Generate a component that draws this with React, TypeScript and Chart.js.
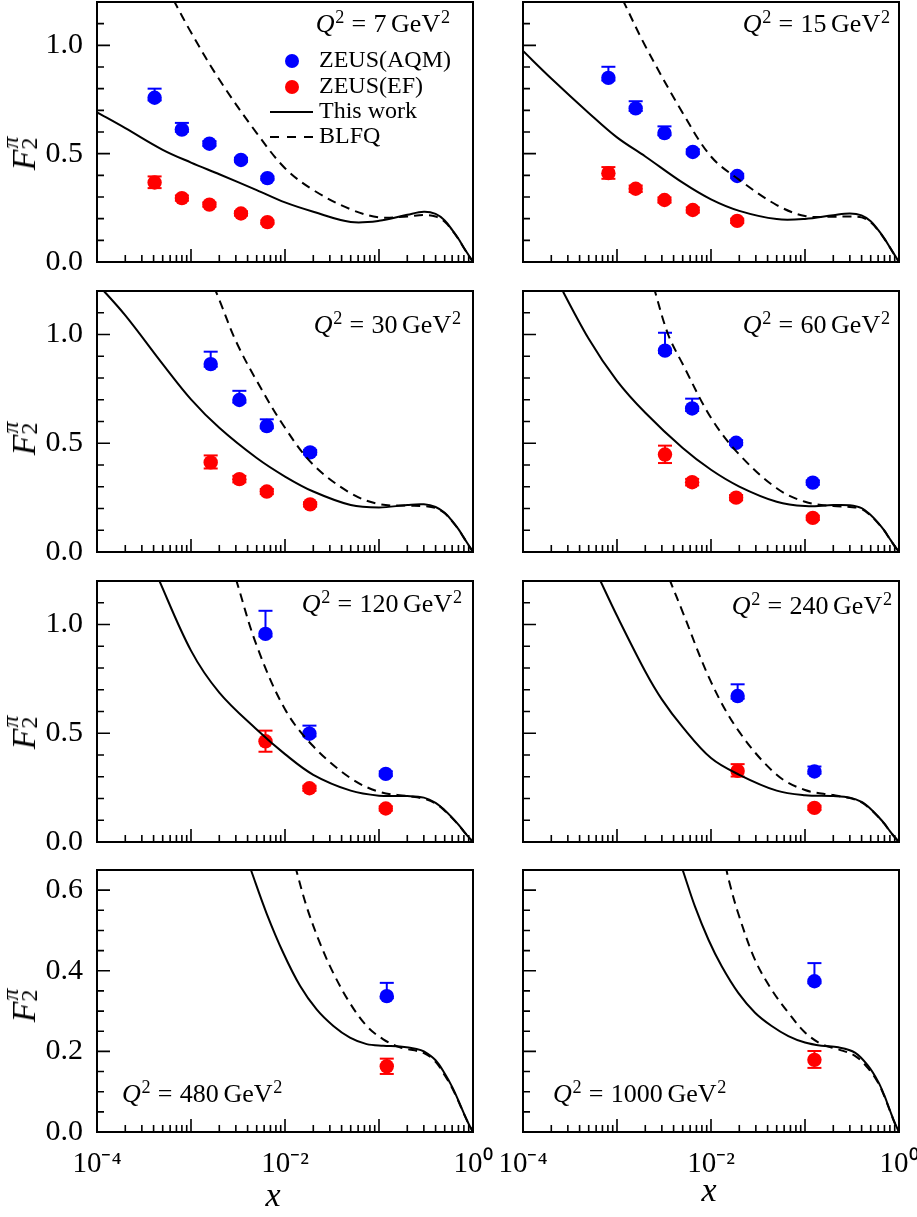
import React, { useEffect, useRef } from 'react';
import { Chart, registerables } from 'chart.js';

Chart.register(...registerables);

const SERIF = "'Liberation Serif', 'Times New Roman', serif";
const BLUE = '#0000ff';
const RED = '#ff0000';

// ---------- ticks ----------
const q2Labels = ['7', '15', '30', '60', '120', '240', '480', '1000'];
const xDecades = [1e-4, 1e-3, 1e-2, 1e-1];
const xMinorFactors = [2, 3, 4, 5, 6, 7, 8, 9];
const xLabelledDecades = [1e-4, 1e-2, 1];
const yTicksTall = [0, 0.1, 0.2, 0.3, 0.4, 0.5, 0.6, 0.7, 0.8, 0.9, 1.0, 1.1, 1.2];
const yLabelsTall = [0, 0.5, 1.0];
const yTicksShort = [0, 0.05, 0.1, 0.15, 0.2, 0.25, 0.3, 0.35, 0.4, 0.45, 0.5, 0.55, 0.6, 0.65];
const yLabelsShort = [0, 0.2, 0.4, 0.6];

// ---------- Q^2 = 7 ----------
const xAqm7 = [4.1e-4, 8.0e-4, 1.57e-3, 3.4e-3, 6.5e-3];
const yAqm7 = [0.758, 0.611, 0.546, 0.471, 0.387];
const upAqm7 = [0.042, 0.031, 0.012, 0.01, 0.008];
const dnAqm7 = [0.012, 0.01, 0.01, 0.008, 0.008];
const xEf7 = [4.1e-4, 8.0e-4, 1.57e-3, 3.4e-3, 6.5e-3];
const yEf7 = [0.367, 0.295, 0.265, 0.224, 0.184];
const upEf7 = [0.028, 0.012, 0.01, 0.01, 0.008];
const dnEf7 = [0.026, 0.012, 0.01, 0.01, 0.008];
const thisWork7 = [[1e-4, 0.691], [2e-4, 0.618], [5e-4, 0.518], [1e-3, 0.459], [2e-3, 0.405], [5e-3, 0.332], [1e-2, 0.275], [2e-2, 0.232], [5e-2, 0.185], [0.1, 0.19], [0.2, 0.218], [0.3, 0.232], [0.4, 0.222], [0.5, 0.192], [0.6, 0.148], [0.7, 0.107], [0.8, 0.066], [0.9, 0.031], [1, 0]];
const blfq7 = [[6.5e-4, 1.21], [1e-3, 1.06], [2e-3, 0.842], [5e-3, 0.595], [1e-2, 0.433], [2e-2, 0.332], [5e-2, 0.243], [0.1, 0.206], [0.2, 0.21], [0.3, 0.217], [0.4, 0.21], [0.5, 0.186], [0.6, 0.146], [0.7, 0.106], [0.8, 0.065], [0.9, 0.03], [1, 0]];

// ---------- Q^2 = 15 ----------
const xAqm15 = [8.1e-4, 1.58e-3, 3.2e-3, 6.4e-3, 1.9e-2];
const yAqm15 = [0.85, 0.709, 0.595, 0.508, 0.397];
const upAqm15 = [0.051, 0.033, 0.031, 0.012, 0.01];
const dnAqm15 = [0.012, 0.012, 0.01, 0.01, 0.01];
const xEf15 = [8.1e-4, 1.58e-3, 3.2e-3, 6.4e-3, 1.9e-2];
const yEf15 = [0.41, 0.338, 0.286, 0.24, 0.19];
const upEf15 = [0.028, 0.015, 0.012, 0.012, 0.01];
const dnEf15 = [0.026, 0.015, 0.012, 0.012, 0.01];
const thisWork15 = [[1e-4, 0.974], [2e-4, 0.847], [5e-4, 0.688], [1e-3, 0.575], [2e-3, 0.487], [5e-3, 0.366], [1e-2, 0.289], [2e-2, 0.236], [5e-2, 0.198], [0.1, 0.199], [0.2, 0.216], [0.3, 0.224], [0.4, 0.215], [0.5, 0.188], [0.6, 0.148], [0.7, 0.108], [0.8, 0.068], [0.9, 0.032], [1, 0]];
const blfq15 = [[1.15e-3, 1.21], [2e-3, 0.997], [5e-3, 0.688], [1e-2, 0.487], [2e-2, 0.379], [5e-2, 0.263], [0.1, 0.212], [0.2, 0.209], [0.3, 0.21], [0.4, 0.206], [0.5, 0.183], [0.6, 0.146], [0.7, 0.107], [0.8, 0.067], [0.9, 0.031], [1, 0]];

// ---------- Q^2 = 30 ----------
const xAqm30 = [1.62e-3, 3.27e-3, 6.4e-3, 1.85e-2];
const yAqm30 = [0.864, 0.699, 0.579, 0.458];
const upAqm30 = [0.057, 0.042, 0.031, 0.012];
const dnAqm30 = [0.012, 0.012, 0.01, 0.01];
const xEf30 = [1.62e-3, 3.27e-3, 6.4e-3, 1.85e-2];
const yEf30 = [0.412, 0.335, 0.278, 0.219];
const upEf30 = [0.032, 0.015, 0.012, 0.01];
const dnEf30 = [0.028, 0.015, 0.012, 0.01];
const thisWork30 = [[1e-4, 1.235], [2e-4, 1.088], [5e-4, 0.864], [1e-3, 0.702], [2e-3, 0.571], [5e-3, 0.432], [1e-2, 0.347], [2e-2, 0.278], [5e-2, 0.216], [0.1, 0.205], [0.2, 0.216], [0.3, 0.219], [0.4, 0.207], [0.5, 0.18], [0.6, 0.143], [0.7, 0.105], [0.8, 0.066], [0.9, 0.031], [1, 0]];
const blfq30 = [[1.75e-3, 1.22], [2e-3, 1.16], [3e-3, 0.97], [5e-3, 0.787], [1e-2, 0.571], [2e-2, 0.401], [5e-2, 0.27], [0.1, 0.22], [0.2, 0.213], [0.3, 0.211], [0.4, 0.202], [0.5, 0.178], [0.6, 0.141], [0.7, 0.104], [0.8, 0.065], [0.9, 0.03], [1, 0]];

// ---------- Q^2 = 60 ----------
const xAqm60 = [3.24e-3, 6.3e-3, 1.85e-2, 0.121];
const yAqm60 = [0.926, 0.66, 0.502, 0.319];
const upAqm60 = [0.082, 0.045, 0.012, 0.01];
const dnAqm60 = [0.012, 0.012, 0.01, 0.01];
const xEf60 = [3.24e-3, 6.3e-3, 1.85e-2, 0.121];
const yEf60 = [0.448, 0.321, 0.25, 0.157];
const upEf60 = [0.041, 0.015, 0.012, 0.01];
const dnEf60 = [0.039, 0.015, 0.012, 0.01];
const thisWork60 = [[2e-4, 1.3], [5e-4, 0.98], [1e-3, 0.787], [2e-3, 0.64], [5e-3, 0.478], [1e-2, 0.378], [2e-2, 0.301], [5e-2, 0.231], [0.1, 0.211], [0.2, 0.216], [0.3, 0.215], [0.4, 0.202], [0.5, 0.17], [0.6, 0.134], [0.7, 0.098], [0.8, 0.06], [0.9, 0.027], [1, 0]];
const blfq60 = [[2.45e-3, 1.22], [3.5e-3, 1.0], [5e-3, 0.864], [1e-2, 0.617], [2e-2, 0.448], [5e-2, 0.293], [0.1, 0.231], [0.2, 0.211], [0.3, 0.207], [0.4, 0.198], [0.5, 0.167], [0.6, 0.132], [0.7, 0.097], [0.8, 0.059], [0.9, 0.027], [1, 0]];

// ---------- Q^2 = 120 ----------
const xAqm120 = [6.2e-3, 1.82e-2, 0.118];
const yAqm120 = [0.957, 0.498, 0.313];
const upAqm120 = [0.106, 0.037, 0.012];
const dnAqm120 = [0.012, 0.012, 0.01];
const xEf120 = [6.2e-3, 1.82e-2, 0.118];
const yEf120 = [0.463, 0.247, 0.154];
const upEf120 = [0.049, 0.012, 0.01];
const dnEf120 = [0.048, 0.012, 0.01];
const thisWork120 = [[4.3e-4, 1.23], [1e-3, 0.88], [2e-3, 0.687], [5e-3, 0.517], [1e-2, 0.404], [2e-2, 0.309], [5e-2, 0.236], [0.1, 0.213], [0.2, 0.211], [0.3, 0.204], [0.4, 0.18], [0.5, 0.146], [0.6, 0.112], [0.7, 0.08], [0.8, 0.049], [0.9, 0.022], [1, 0]];
const blfq120 = [[3.0e-3, 1.21], [5e-3, 0.903], [1e-2, 0.61], [2e-2, 0.44], [5e-2, 0.293], [0.1, 0.231], [0.2, 0.211], [0.3, 0.199], [0.4, 0.177], [0.5, 0.144], [0.6, 0.11], [0.7, 0.079], [0.8, 0.048], [0.9, 0.022], [1, 0]];

// ---------- Q^2 = 240 ----------
const xAqm240 = [1.92e-2, 0.126];
const yAqm240 = [0.671, 0.324];
const upAqm240 = [0.054, 0.023];
const dnAqm240 = [0.012, 0.01];
const xEf240 = [1.92e-2, 0.126];
const yEf240 = [0.327, 0.157];
const upEf240 = [0.031, 0.01];
const dnEf240 = [0.026, 0.01];
const thisWork240 = [[6.5e-4, 1.21], [1e-3, 1.04], [2e-3, 0.784], [3e-3, 0.656], [5e-3, 0.528], [1e-2, 0.386], [2e-2, 0.309], [5e-2, 0.236], [0.1, 0.215], [0.2, 0.211], [0.3, 0.204], [0.4, 0.184], [0.5, 0.152], [0.6, 0.117], [0.7, 0.084], [0.8, 0.05], [0.9, 0.022], [1, 0]];
const blfq240 = [[3.6e-3, 1.21], [5e-3, 1.057], [1e-2, 0.736], [2e-2, 0.506], [5e-2, 0.309], [0.1, 0.239], [0.2, 0.216], [0.3, 0.202], [0.4, 0.182], [0.5, 0.15], [0.6, 0.116], [0.7, 0.083], [0.8, 0.049], [0.9, 0.022], [1, 0]];

// ---------- Q^2 = 480 ----------
const xAqm480 = [0.121];
const yAqm480 = [0.337];
const upAqm480 = [0.033];
const dnAqm480 = [0.005];
const xEf480 = [0.121];
const yEf480 = [0.163];
const upEf480 = [0.019];
const dnEf480 = [0.019];
const thisWork480 = [[4.0e-3, 0.675], [4.42e-3, 0.645], [6.38e-3, 0.542], [9.6e-3, 0.444], [0.0145, 0.362], [0.0217, 0.304], [0.0327, 0.263], [0.0491, 0.234], [0.0739, 0.218], [0.111, 0.214], [0.167, 0.212], [0.251, 0.206], [0.3, 0.2], [0.4, 0.178], [0.5, 0.145], [0.6, 0.112], [0.7, 0.078], [0.8, 0.046], [0.9, 0.02], [1, 0]];
const blfq480 = [[0.0128, 0.66], [0.017, 0.559], [0.0236, 0.468], [0.0327, 0.394], [0.049, 0.32], [0.074, 0.263], [0.111, 0.23], [0.167, 0.21], [0.3, 0.196], [0.4, 0.174], [0.5, 0.141], [0.6, 0.109], [0.7, 0.076], [0.8, 0.045], [0.9, 0.02], [1, 0]];

// ---------- Q^2 = 1000 ----------
const xAqm1000 = [0.126];
const yAqm1000 = [0.374];
const upAqm1000 = [0.045];
const dnAqm1000 = [0.005];
const xEf1000 = [0.126];
const yEf1000 = [0.179];
const upEf1000 = [0.022];
const dnEf1000 = [0.02];
const thisWork1000 = [[4.7e-3, 0.668], [5.08e-3, 0.645], [6.76e-3, 0.559], [9.4e-3, 0.477], [0.013, 0.411], [0.0195, 0.345], [0.0294, 0.296], [0.0442, 0.263], [0.0665, 0.238], [0.1, 0.222], [0.15, 0.214], [0.226, 0.21], [0.34, 0.197], [0.47, 0.164], [0.6, 0.125], [0.7, 0.09], [0.8, 0.054], [0.9, 0.023], [1, 0]];
const blfq1000 = [[0.0143, 0.66], [0.0155, 0.624], [0.0195, 0.542], [0.0294, 0.427], [0.0442, 0.353], [0.0665, 0.296], [0.1, 0.247], [0.15, 0.218], [0.226, 0.205], [0.34, 0.189], [0.47, 0.158], [0.6, 0.122], [0.7, 0.088], [0.8, 0.053], [0.9, 0.022], [1, 0]];

// ---------- panel list ----------
const panels = [
  { q2: q2Labels[0], col: 0, row: 0, aqm: { x: xAqm7, y: yAqm7, up: upAqm7, dn: dnAqm7 }, ef: { x: xEf7, y: yEf7, up: upEf7, dn: dnEf7 }, thisWork: thisWork7, blfq: blfq7 },
  { q2: q2Labels[1], col: 1, row: 0, aqm: { x: xAqm15, y: yAqm15, up: upAqm15, dn: dnAqm15 }, ef: { x: xEf15, y: yEf15, up: upEf15, dn: dnEf15 }, thisWork: thisWork15, blfq: blfq15 },
  { q2: q2Labels[2], col: 0, row: 1, aqm: { x: xAqm30, y: yAqm30, up: upAqm30, dn: dnAqm30 }, ef: { x: xEf30, y: yEf30, up: upEf30, dn: dnEf30 }, thisWork: thisWork30, blfq: blfq30 },
  { q2: q2Labels[3], col: 1, row: 1, aqm: { x: xAqm60, y: yAqm60, up: upAqm60, dn: dnAqm60 }, ef: { x: xEf60, y: yEf60, up: upEf60, dn: dnEf60 }, thisWork: thisWork60, blfq: blfq60 },
  { q2: q2Labels[4], col: 0, row: 2, aqm: { x: xAqm120, y: yAqm120, up: upAqm120, dn: dnAqm120 }, ef: { x: xEf120, y: yEf120, up: upEf120, dn: dnEf120 }, thisWork: thisWork120, blfq: blfq120 },
  { q2: q2Labels[5], col: 1, row: 2, aqm: { x: xAqm240, y: yAqm240, up: upAqm240, dn: dnAqm240 }, ef: { x: xEf240, y: yEf240, up: upEf240, dn: dnEf240 }, thisWork: thisWork240, blfq: blfq240 },
  { q2: q2Labels[6], col: 0, row: 3, aqm: { x: xAqm480, y: yAqm480, up: upAqm480, dn: dnAqm480 }, ef: { x: xEf480, y: yEf480, up: upEf480, dn: dnEf480 }, thisWork: thisWork480, blfq: blfq480 },
  { q2: q2Labels[7], col: 1, row: 3, aqm: { x: xAqm1000, y: yAqm1000, up: upAqm1000, dn: dnAqm1000 }, ef: { x: xEf1000, y: yEf1000, up: upEf1000, dn: dnEf1000 }, thisWork: thisWork1000, blfq: blfq1000 },
];

// ---------- layout ----------
const COLS = [
  { canvasLeft: 0, width: 500, axisW: 97, padRight: 27 },
  { canvasLeft: 470, width: 447, axisW: 53, padRight: 18 },
];
const ROWS = [
  { top: 2, bottom: 262, xAxisH: 16 },
  { top: 291, bottom: 552, xAxisH: 16 },
  { top: 581, bottom: 842, xAxisH: 16 },
  { top: 870, bottom: 1132, xAxisH: 50 },
];
const PAD_TOP = 12;

const ANNOT = [
  { right: 450, baseline: 33 },
  { right: 890, baseline: 33 },
  { right: 461, baseline: 334 },
  { right: 890, baseline: 334 },
  { right: 462, baseline: 613 },
  { right: 892, baseline: 615 },
  { left: 122, baseline: 1103 },
  { left: 553, baseline: 1103 },
];
const Y_TITLE_CY = [152, 437, 731, 1004];

const xTickValues = [...xDecades.flatMap((d) => [d, ...xMinorFactors.map((f) => f * d)]), 1];
const SUP: Record<string, string> = { '-': '\u207B', '0': '\u2070', '1': '\u00B9', '2': '\u00B2', '3': '\u00B3', '4': '\u2074', '5': '\u2075', '6': '\u2076', '7': '\u2077', '8': '\u2078', '9': '\u2079' };
const isNear = (a: number, b: number) => Math.abs(a - b) <= 1e-6 * Math.max(Math.abs(a), Math.abs(b), 1e-12);
const isDecade = (v: number) => Math.abs(Math.log10(v) - Math.round(Math.log10(v))) < 1e-6;
const xLabel = (v: number) => {
  if (!xLabelledDecades.some((d) => isNear(d, v))) return '';
  const e = String(Math.round(Math.log10(v)));
  return '10' + e.split('').map((c) => SUP[c]).join('');
};

function makeFramePlugin(yLabels: number[]) {
  return {
    id: 'frameTicks',
    afterDatasetsDraw(chart: any) {
      const { ctx, chartArea: a } = chart;
      const xs = chart.scales.x;
      const ys = chart.scales.y;
      ctx.save();
      ctx.strokeStyle = '#000';
      ctx.lineWidth = 1.6;
      ctx.beginPath();
      xs.ticks.forEach((t: any) => {
        const px = xs.getPixelForValue(t.value);
        const len = isDecade(t.value) ? 13 : 7;
        ctx.moveTo(px, a.bottom);
        ctx.lineTo(px, a.bottom - len);
      });
      ys.ticks.forEach((t: any) => {
        const py = ys.getPixelForValue(t.value);
        const len = yLabels.some((l) => Math.abs(l - t.value) < 1e-9) ? 13 : 7;
        ctx.moveTo(a.left, py);
        ctx.lineTo(a.left + len, py);
      });
      ctx.stroke();
      ctx.lineWidth = 2;
      ctx.strokeRect(a.left, a.top, a.right - a.left, a.bottom - a.top);
      ctx.restore();
    },
  };
}

function buildConfig(p: any) {
  const col = COLS[p.col];
  const row = ROWS[p.row];
  const tall = p.row < 3;
  const yTicks = tall ? yTicksTall : yTicksShort;
  const yLabels = tall ? yLabelsTall : yLabelsShort;
  const showX = p.row === 3;
  const showY = p.col === 0;

  const curve = (label: string, pts: number[][], dash: number[]) => ({
    label,
    data: pts.map(([x, y]) => ({ x, y })),
    showLine: true,
    borderColor: '#000',
    backgroundColor: '#000',
    borderWidth: 2,
    borderDash: dash,
    pointRadius: 0,
    pointHoverRadius: 0,
    tension: 0.35,
    order: 1,
  });
  const markers = (label: string, s: any, color: string) => ({
    label,
    data: s.x.map((x: number, i: number) => ({ x, y: s.y[i] })),
    pointRadius: 7.2,
    pointHoverRadius: 7.2,
    pointBackgroundColor: color,
    pointBorderWidth: 0,
    borderColor: color,
    backgroundColor: color,
    order: 2,
  });
  const errBars = (label: string, s: any, color: string) =>
    s.x.map((x: number, i: number) => ({
      label: label + ' error',
      data: [{ x, y: s.y[i] - s.dn[i] }, { x, y: s.y[i] + s.up[i] }],
      showLine: true,
      borderColor: color,
      backgroundColor: color,
      borderWidth: 2,
      pointStyle: 'line',
      pointRadius: 7,
      pointHoverRadius: 7,
      pointBorderWidth: 2,
      pointBorderColor: color,
      pointBackgroundColor: color,
      order: 3,
    }));

  return {
    type: 'scatter',
    data: {
      datasets: [
        ...errBars('ZEUS(AQM)', p.aqm, BLUE),
        ...errBars('ZEUS(EF)', p.ef, RED),
        markers('ZEUS(AQM)', p.aqm, BLUE),
        markers('ZEUS(EF)', p.ef, RED),
        curve('This work', p.thisWork, []),
        curve('BLFQ', p.blfq, [9, 6]),
      ],
    },
    options: {
      animation: false,
      responsive: false,
      devicePixelRatio: 1,
      events: [],
      layout: { padding: { top: PAD_TOP, right: col.padRight, left: 0, bottom: 0 } },
      plugins: { legend: { display: false }, tooltip: { enabled: false } },
      scales: {
        x: {
          type: 'logarithmic',
          min: 1e-4,
          max: 1,
          grid: { display: false },
          border: { display: false },
          ticks: {
            autoSkip: false,
            maxRotation: 0,
            minRotation: 0,
            padding: 7,
            color: '#000',
            font: { family: SERIF, size: 29 },
            callback: (v: any) => (showX ? xLabel(Number(v)) : ''),
          },
          afterBuildTicks: (s: any) => {
            s.ticks = xTickValues.map((v) => ({ value: v }));
          },
          afterFit: (s: any) => {
            s.height = row.xAxisH;
            s.paddingLeft = 0;
            s.paddingRight = 0;
          },
        },
        y: {
          type: 'linear',
          min: 0,
          max: tall ? 1.2 : 0.65,
          grid: { display: false },
          border: { display: false },
          ticks: {
            autoSkip: false,
            padding: 6,
            color: '#000',
            font: { family: SERIF, size: 30 },
            callback: (v: any) => {
              const n = Number(v);
              return showY && yLabels.some((l) => Math.abs(l - n) < 1e-9) ? n.toFixed(1) : '';
            },
          },
          afterBuildTicks: (s: any) => {
            s.ticks = yTicks.map((v) => ({ value: v }));
          },
          afterFit: (s: any) => {
            s.width = col.axisW;
            s.paddingTop = 0;
            s.paddingBottom = 0;
          },
        },
      },
    },
    plugins: [makeFramePlugin(yLabels)],
  };
}

function Panel({ p }: { p: any }) {
  const ref = useRef<HTMLCanvasElement>(null);
  const col = COLS[p.col];
  const row = ROWS[p.row];
  const height = PAD_TOP + (row.bottom - row.top) + row.xAxisH;
  useEffect(() => {
    const chart = new Chart(ref.current as HTMLCanvasElement, buildConfig(p) as any);
    return () => chart.destroy();
  }, []);
  return (
    <canvas
      ref={ref}
      width={col.width}
      height={height}
      style={{ position: 'absolute', left: col.canvasLeft, top: row.top - PAD_TOP, width: col.width, height }}
    />
  );
}

const supStyle: React.CSSProperties = { fontSize: '0.7em', position: 'relative', top: '-0.5em', marginLeft: '0.04em' };

function Annotation({ q2, pos }: { q2: string; pos: any }) {
  const fs = 26;
  const style: React.CSSProperties = {
    position: 'absolute',
    top: pos.baseline - 0.8375 * fs,
    fontSize: fs,
    lineHeight: `${fs}px`,
    whiteSpace: 'nowrap',
    fontFamily: SERIF,
  };
  if (pos.right !== undefined) style.right = 917 - pos.right;
  else style.left = pos.left;
  return (
    <div style={style}>
      <span style={{ fontStyle: 'italic' }}>Q</span>
      <span style={supStyle}>2</span>
      <span style={{ margin: '0 0.28em' }}>=</span>
      <span>{q2}</span>
      <span style={{ marginLeft: '0.18em' }}>GeV</span>
      <span style={supStyle}>2</span>
    </div>
  );
}

function YTitle({ cy }: { cy: number }) {
  return (
    <div
      style={{
        position: 'absolute',
        left: 25,
        top: cy,
        transform: 'translate(-50%, -50%) rotate(-90deg)',
        fontSize: 34,
        lineHeight: '34px',
        fontFamily: SERIF,
        whiteSpace: 'nowrap',
      }}
    >
      <span style={{ fontStyle: 'italic' }}>F</span>
      <span style={{ display: 'inline-block', position: 'relative', width: 16, height: 34, verticalAlign: -8 }}>
        <span style={{ position: 'absolute', left: 1, top: -11, fontSize: 24, lineHeight: '24px', fontStyle: 'italic' }}>π</span>
        <span style={{ position: 'absolute', left: 0, top: 8, fontSize: 24, lineHeight: '24px' }}>2</span>
      </span>
    </div>
  );
}

const legendItems = [
  { label: 'ZEUS(AQM)', kind: 'dot', color: BLUE, cy: 61 },
  { label: 'ZEUS(EF)', kind: 'dot', color: RED, cy: 87 },
  { label: 'This work', kind: 'solid', color: '#000', cy: 112 },
  { label: 'BLFQ', kind: 'dashed', color: '#000', cy: 137 },
];

function Legend() {
  const fs = 24;
  return (
    <>
      {legendItems.map((it) => (
        <React.Fragment key={it.label}>
          {it.kind === 'dot' ? (
            <div style={{ position: 'absolute', left: 285, top: it.cy - 7, width: 14, height: 14, borderRadius: '50%', background: it.color }} />
          ) : (
            <div
              style={{
                position: 'absolute',
                left: 270,
                top: it.cy - 1,
                width: 43,
                height: 2,
                background: it.kind === 'solid' ? '#000' : 'repeating-linear-gradient(to right, #000 0 9px, transparent 9px 17px)',
              }}
            />
          )}
          <div style={{ position: 'absolute', left: 319, top: it.cy + 6 - 0.8375 * fs, fontSize: fs, lineHeight: `${fs}px`, fontFamily: SERIF, whiteSpace: 'nowrap' }}>
            {it.label}
          </div>
        </React.Fragment>
      ))}
    </>
  );
}

function XTitle({ cx, baseline }: { cx: number; baseline: number }) {
  const fs = 34;
  return (
    <div
      style={{
        position: 'absolute',
        left: cx,
        top: baseline - 0.8375 * fs,
        transform: 'translateX(-50%)',
        fontSize: fs,
        lineHeight: `${fs}px`,
        fontFamily: SERIF,
        fontStyle: 'italic',
      }}
    >
      x
    </div>
  );
}

export default function App() {
  return (
    <div
      style={{
        position: 'absolute',
        left: 0,
        top: 0,
        width: 917,
        height: 1217,
        overflow: 'hidden',
        background: '#fff',
        color: '#000',
        fontFamily: SERIF,
      }}
    >
      {panels.map((p, i) => (
        <Panel key={i} p={p} />
      ))}
      {panels.map((p, i) => (
        <Annotation key={'a' + i} q2={p.q2} pos={ANNOT[i]} />
      ))}
      <Legend />
      {Y_TITLE_CY.map((cy, i) => (
        <YTitle key={'y' + i} cy={cy} />
      ))}
      <XTitle cx={273} baseline={1206} />
      <XTitle cx={709} baseline={1201} />
    </div>
  );
}
